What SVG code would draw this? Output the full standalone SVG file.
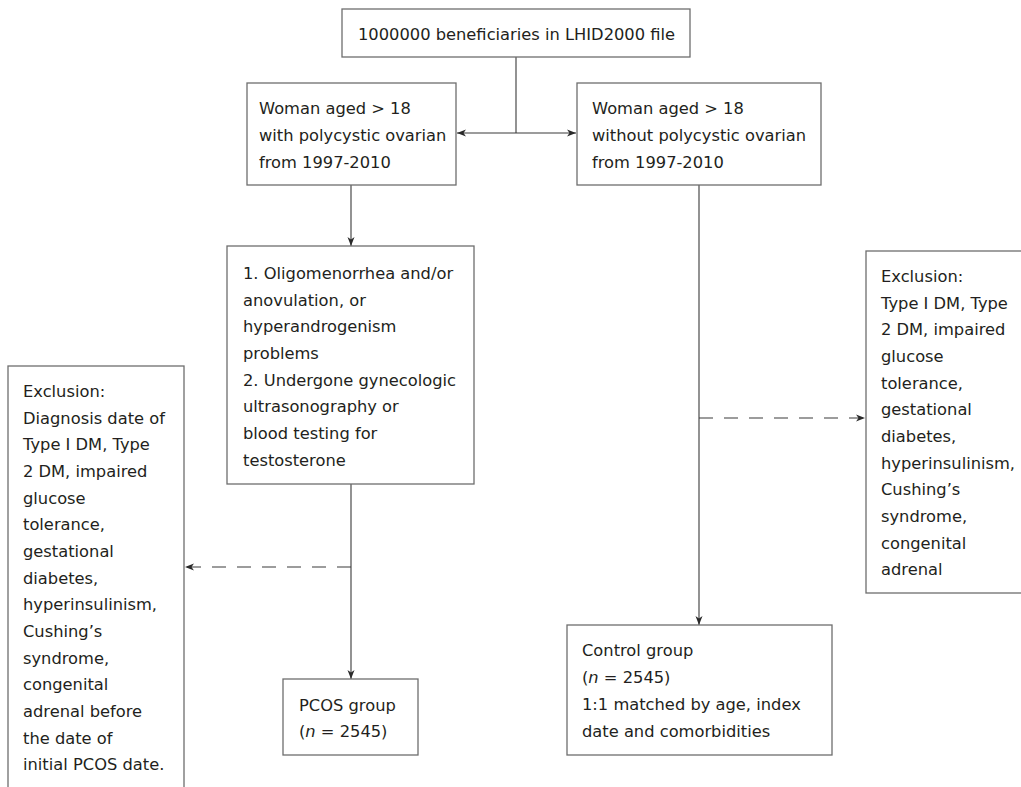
<svg xmlns="http://www.w3.org/2000/svg" width="1021" height="787" viewBox="0 0 1021 787">
<style>
.box{fill:#fff;stroke:#6e6e6e;stroke-width:1.3}
.t{font-family:"DejaVu Sans","Liberation Sans",sans-serif;font-size:16.3px;fill:#231f20}
.c{fill:none;stroke:#3a3a3a;stroke-width:1.1}
.d{stroke-dasharray:14 11}
</style>
<defs>
<marker id="ah" markerUnits="userSpaceOnUse" markerWidth="10" markerHeight="8" refX="9" refY="4" orient="auto">
<path d="M0,0.5 L9,4 L0,7.5 L2.5,4 Z" fill="#2a2a2a"/>
</marker>
</defs>
<rect width="1021" height="787" fill="#fff"/>
<g id="connectors">
<path class="c" d="M516,57 V133"/>
<path class="c" d="M516,133 H457" marker-end="url(#ah)"/>
<path class="c" d="M516,133 H576" marker-end="url(#ah)"/>
<path class="c" d="M351,185 V246" marker-end="url(#ah)"/>
<path class="c" d="M351,484 V679" marker-end="url(#ah)"/>
<path class="c d" d="M351,567 H185" marker-end="url(#ah)"/>
<path class="c" d="M699,185 V625" marker-end="url(#ah)"/>
<path class="c d" d="M699,418 H865" marker-end="url(#ah)"/>
</g>
<g id="top">
<rect class="box" x="342" y="9" width="348" height="48"/>
<text class="t" x="358" y="40">1000000 beneficiaries in LHID2000 file</text>
</g>
<g id="with-pco">
<rect class="box" x="247" y="83" width="209" height="102"/>
<text class="t" x="259" y="114">Woman aged &gt; 18</text>
<text class="t" x="259" y="141">with polycystic ovarian</text>
<text class="t" x="259" y="168">from 1997-2010</text>
</g>
<g id="without-pco">
<rect class="box" x="577" y="83" width="244" height="102"/>
<text class="t" x="592" y="114">Woman aged &gt; 18</text>
<text class="t" x="592" y="141">without polycystic ovarian</text>
<text class="t" x="592" y="168">from 1997-2010</text>
</g>
<g id="criteria">
<rect class="box" x="227" y="246" width="247" height="238"/>
<text class="t" x="243" y="279">1. Oligomenorrhea and/or</text>
<text class="t" x="243" y="305.7">anovulation, or</text>
<text class="t" x="243" y="332.3">hyperandrogenism</text>
<text class="t" x="243" y="359">problems</text>
<text class="t" x="243" y="385.7">2. Undergone gynecologic</text>
<text class="t" x="243" y="412.3">ultrasonography or</text>
<text class="t" x="243" y="439">blood testing for</text>
<text class="t" x="243" y="465.7">testosterone</text>
</g>
<g id="exclusion-left">
<rect class="box" x="8" y="366" width="176" height="440"/>
<text class="t" x="23" y="397">Exclusion:</text>
<text class="t" x="23" y="423.7">Diagnosis date of</text>
<text class="t" x="23" y="450.3">Type I DM, Type</text>
<text class="t" x="23" y="477">2 DM, impaired</text>
<text class="t" x="23" y="503.7">glucose</text>
<text class="t" x="23" y="530.3">tolerance,</text>
<text class="t" x="23" y="557">gestational</text>
<text class="t" x="23" y="583.7">diabetes,</text>
<text class="t" x="23" y="610.3">hyperinsulinism,</text>
<text class="t" x="23" y="637">Cushing’s</text>
<text class="t" x="23" y="663.7">syndrome,</text>
<text class="t" x="23" y="690.3">congenital</text>
<text class="t" x="23" y="717">adrenal before</text>
<text class="t" x="23" y="743.7">the date of</text>
<text class="t" x="23" y="770.3">initial PCOS date.</text>
</g>
<g id="exclusion-right">
<rect class="box" x="866" y="251" width="170" height="342"/>
<text class="t" x="881" y="282">Exclusion:</text>
<text class="t" x="881" y="308.7">Type I DM, Type</text>
<text class="t" x="881" y="335.3">2 DM, impaired</text>
<text class="t" x="881" y="362">glucose</text>
<text class="t" x="881" y="388.7">tolerance,</text>
<text class="t" x="881" y="415.3">gestational</text>
<text class="t" x="881" y="442">diabetes,</text>
<text class="t" x="881" y="468.7">hyperinsulinism,</text>
<text class="t" x="881" y="495.3">Cushing’s</text>
<text class="t" x="881" y="522">syndrome,</text>
<text class="t" x="881" y="548.7">congenital</text>
<text class="t" x="881" y="575.3">adrenal</text>
</g>
<g id="pcos-group">
<rect class="box" x="283" y="679" width="135" height="76"/>
<text class="t" x="299" y="711">PCOS group</text>
<text class="t" x="299" y="737">(<tspan font-style="italic">n</tspan> = 2545)</text>
</g>
<g id="control-group">
<rect class="box" x="567" y="625" width="265" height="130"/>
<text class="t" x="582" y="656">Control group</text>
<text class="t" x="582" y="683">(<tspan font-style="italic">n</tspan> = 2545)</text>
<text class="t" x="582" y="710">1:1 matched by age, index</text>
<text class="t" x="582" y="737">date and comorbidities</text>
</g>
</svg>
